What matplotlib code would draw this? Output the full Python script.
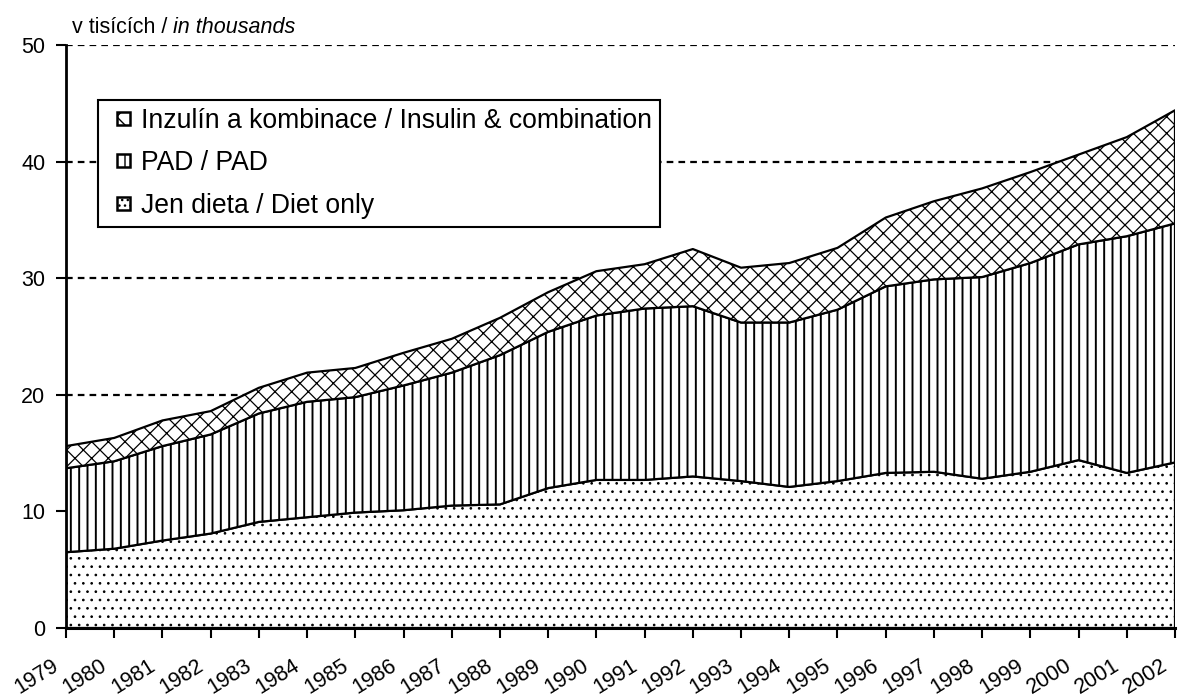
import numpy as np
import matplotlib
matplotlib.use('Agg')
import matplotlib.pyplot as plt
import matplotlib.patches as mpatches
from matplotlib.legend_handler import HandlerPatch
from matplotlib.transforms import ScaledTranslation

plt.rcParams['font.family'] = ['Liberation Sans', 'DejaVu Sans']
plt.rcParams['hatch.color'] = 'black'

# data (v tisících)
years = [str(y) for y in range(1979, 2003)]
diet = [6.5, 6.8, 7.5, 8.1, 9.1, 9.5, 9.9, 10.1, 10.5, 10.6, 12.0, 12.7,
        12.7, 13.0, 12.6, 12.1, 12.6, 13.3, 13.4, 12.8, 13.4, 14.4, 13.3, 14.2]
pad = [7.2, 7.5, 8.1, 8.5, 9.3, 9.9, 9.9, 10.7, 11.4, 12.8, 13.4, 14.1,
       14.7, 14.6, 13.6, 14.1, 14.7, 16.0, 16.5, 17.3, 17.9, 18.5, 20.3, 20.5]
insulin = [1.9, 2.0, 2.2, 2.0, 2.2, 2.5, 2.5, 2.8, 2.9, 3.2, 3.4, 3.8,
           3.8, 4.9, 4.7, 5.1, 5.3, 5.9, 6.7, 7.6, 7.8, 7.7, 8.5, 9.7]
labels = ['Jen dieta / Diet only', 'PAD / PAD', 'Inzulín a kombinace / Insulin & combination']
hatches = ['..', '||', 'xx']
legend_hatches = ['...', '|', 'x']
hatch_lw = [0.7, 1.4, 0.9]

fig = plt.figure(figsize=(11.79, 6.97), dpi=100)
ax = fig.add_axes([66 / 1179, 69 / 697, 1109 / 1179, 583 / 697])

x = np.arange(len(years))
base = np.zeros(len(years))
proxies = []
for vals, h, lh, hlw in zip([diet, pad, insulin], hatches, legend_hatches, hatch_lw):
    top = base + np.array(vals)
    with plt.rc_context({'hatch.linewidth': hlw}):
        ax.fill_between(x, base, top, facecolor='white', edgecolor='black',
                        hatch=h, linewidth=1.6, zorder=2)
        proxies.append(mpatches.Patch(facecolor='white', edgecolor='black',
                                      hatch=lh, linewidth=1.8))
    base = top

# dashed grid
for gy in [10, 20, 30, 40, 50]:
    ax.axhline(gy, color='black', lw=1.6, linestyle=(0, (3, 2.3)), zorder=1)

ax.set_xlim(0, len(years) - 1)
ax.set_ylim(0, 50)
ax.set_yticks(range(0, 51, 10))
ax.set_xticks(x)
ax.set_xticklabels(years, rotation=32, ha='right', va='center', rotation_mode='anchor')
ax.tick_params(axis='both', labelsize=15.5, length=7, width=1.5, direction='out')
ax.tick_params(axis='x', pad=19)
ax.tick_params(axis='y', pad=8)
shift = ScaledTranslation(-9 / 100, 0, fig.dpi_scale_trans)
for lbl in ax.get_xticklabels():
    lbl.set_transform(lbl.get_transform() + shift)

for s in ['top', 'right']:
    ax.spines[s].set_visible(False)
ax.spines['left'].set_linewidth(2)
ax.spines['bottom'].set_linewidth(2.2)
ax.spines['left'].set_zorder(3)
ax.spines['bottom'].set_zorder(3)


def small_square(legend, orig_handle, xdescent, ydescent, width, height, fontsize):
    s = 13 * 72 / 100
    return mpatches.Rectangle((-xdescent + width - s, -ydescent + (height - s) / 2), s, s)


leg = ax.legend(proxies[::-1], labels[::-1], loc='upper left',
                bbox_to_anchor=(0.0289, 0.9057), borderaxespad=0, fontsize=19.1,
                handlelength=0.9, handleheight=0.5, handletextpad=0.42,
                labelspacing=0.62, borderpad=0.3, fancybox=False,
                framealpha=1, edgecolor='black',
                handler_map={mpatches.Patch: HandlerPatch(patch_func=small_square)})
leg.get_frame().set_linewidth(1.5)

# unit label: upright + italic part
t1 = fig.text(72 / 1179, 1 - 33 / 697, 'v tisících / ', fontsize=15.5, ha='left', va='baseline')
fig.canvas.draw()
bb = t1.get_window_extent()
fig.text(bb.x1 / 1179, 1 - 33 / 697, 'in thousands', fontsize=15.5, style='italic',
         ha='left', va='baseline')

fig.savefig('out.png', dpi=100)
